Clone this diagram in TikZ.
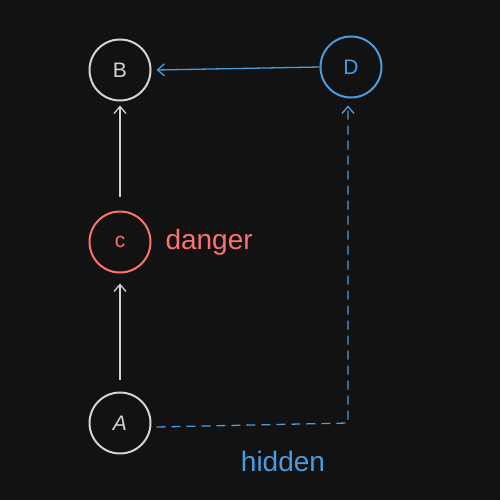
\documentclass[tikz,border=0pt]{standalone}
\usepackage{fontspec}
\setmainfont{Liberation Sans}
\usetikzlibrary{arrows.meta}
\definecolor{bg}{HTML}{121212}
\definecolor{fg}{HTML}{D4D4D4}
\definecolor{bl}{HTML}{4A9BE0}
\definecolor{rd}{HTML}{FF7070}
\begin{document}
\begin{tikzpicture}[x=1pt,y=-1pt,
  nd/.style={circle,draw=fg,line width=2pt,minimum size=61pt,inner sep=0pt,text=fg,font=\fontsize{21}{24}\selectfont},
  conn/.style={draw=fg,line width=1.3pt,-{Straight Barb[length=7pt,width=12pt]}},
  lbl/.style={font=\fontsize{28}{32}\selectfont}]
\fill[bg] (0,0) rectangle (500,500);
\useasboundingbox (0,0) rectangle (500,500);
\node[nd] (B) at (120,70) {B};
\node[nd,draw=bl,text=bl] (D) at (351,67) {D};
\node[nd,draw=rd,text=rd] (C) at (120,242) {c};
\node[nd] (A) at (120,423) {\itshape A};
\node[lbl,text=rd,anchor=west] (dl) at (162,242) {danger};
\node[lbl,text=bl] (hl) at (283,461) {hidden};
\coordinate (corner) at (348,423);
\draw[conn] ([yshift=14pt]C.north) -- ([yshift=-4pt]B.south);
\draw[conn] ([yshift=12pt]A.north) -- ([yshift=-10pt]C.south);
\draw[conn,draw=bl] (D.west) -- ([xshift=5pt]B.east);
\draw[conn,draw=bl,dashed,dash pattern=on 9pt off 6pt] ([xshift=5pt,yshift=-4pt]A.east) -- (corner) -- ([yshift=-7pt]D.south -| corner);
\end{tikzpicture}
\end{document}
